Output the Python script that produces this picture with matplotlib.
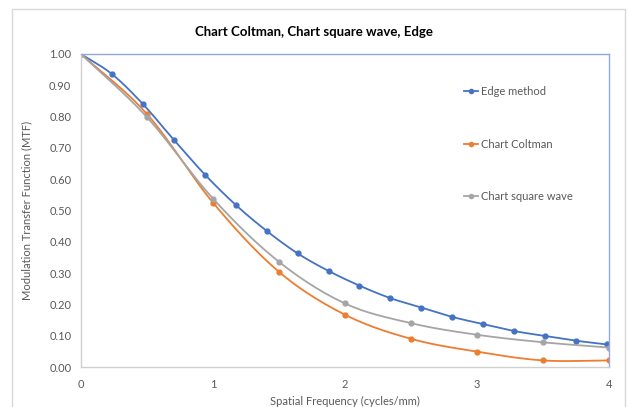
import numpy as np
import matplotlib.pyplot as plt
from matplotlib.patches import Rectangle

plt.rcParams['font.family'] = ['Lato', 'DejaVu Sans']

# data
edge_x = [0, 0.234, 0.469, 0.703, 0.938, 1.172, 1.406, 1.641, 1.875, 2.109,
          2.344, 2.578, 2.813, 3.047, 3.281, 3.516, 3.750, 3.984]
edge_mtf = [1.00, 0.936, 0.840, 0.726, 0.615, 0.518, 0.435, 0.363, 0.307, 0.260,
            0.220, 0.190, 0.160, 0.137, 0.115, 0.099, 0.084, 0.072]
chart_x = [0, 0.5, 1.0, 1.5, 2.0, 2.5, 3.0, 3.5, 4.0]
coltman_mtf = [1.00, 0.808, 0.525, 0.304, 0.167, 0.090, 0.049, 0.021, 0.021]
square_mtf = [1.00, 0.798, 0.538, 0.336, 0.203, 0.140, 0.103, 0.079, 0.062]

series = [
    ("Edge method", edge_x, edge_mtf, "#4472c4"),
    ("Chart Coltman", chart_x, coltman_mtf, "#ed7d31"),
    ("Chart square wave", chart_x, square_mtf, "#a5a5a5"),
]


def smooth(x, y, n=24):
    # catmull-rom curve through the points, like Excel's smoothed line
    x = np.asarray(x, float)
    y = np.asarray(y, float)
    px = np.concatenate([[2 * x[0] - x[1]], x, [2 * x[-1] - x[-2]]])
    py = np.concatenate([[2 * y[0] - y[1]], y, [2 * y[-1] - y[-2]]])
    t = np.linspace(0, 1, n)[:, None]
    xs, ys = [], []
    for i in range(1, len(px) - 2):
        for p, out in ((px, xs), (py, ys)):
            p0, p1, p2, p3 = p[i - 1], p[i], p[i + 1], p[i + 2]
            seg = 0.5 * (2 * p1 + (-p0 + p2) * t + (2 * p0 - 5 * p1 + 4 * p2 - p3) * t ** 2
                         + (-p0 + 3 * p1 - 3 * p2 + p3) * t ** 3)
            out.append(seg.ravel())
    return np.concatenate(xs), np.concatenate(ys)


fig = plt.figure(figsize=(6.28, 4.07), dpi=100)
ax = fig.add_axes([81 / 628, 1 - 367 / 407, (609 - 81) / 628, (367 - 54) / 407])

for label, x, y, c in series:
    sx, sy = smooth(x, y)
    ax.plot(sx, sy, color=c, lw=1.3)
    ax.plot(x, y, 'o', color=c, ms=3.5)
    ax.plot([], [], '-o', color=c, lw=1.3, ms=3, label=label)

ax.set_xlim(0, 4)
ax.set_ylim(0, 1)
ax.set_xticks([0, 1, 2, 3, 4])
ax.set_yticks(np.arange(0, 1.01, 0.1))
ax.set_yticklabels([f"{v:.2f}" for v in np.arange(0, 1.01, 0.1)])
ax.tick_params(length=0, labelsize=8, colors="#595959", pad=7)
ax.tick_params(axis='x', pad=9)
for s in ("left", "bottom"):
    ax.spines[s].set_color("#d0d0d0")
for s in ("top", "right"):
    ax.spines[s].set_color("#8faadc")
for s in ax.spines.values():
    s.set_linewidth(1)

ax.set_xlabel("Spatial Frequency (cycles/mm)", fontsize=8, color="#595959", labelpad=4)
ax.set_ylabel("Modulation Transfer Function (MTF)", fontsize=8, color="#595959", labelpad=12)
fig.text(0.5, 1 - 32 / 407, "Chart Coltman, Chart square wave, Edge", ha="center",
         va="center", fontsize=9.5, fontweight="bold", color="#000000")

leg = ax.legend(loc="upper left", bbox_to_anchor=(454 / 628, 1 - 76 / 407),
                bbox_transform=fig.transFigure, frameon=False, fontsize=8,
                handlelength=1.3, handletextpad=0.2, labelspacing=3.75)
for t in leg.get_texts():
    t.set_color("#595959")

fig.patches.append(Rectangle((12 / 628, -0.02), (625 - 12) / 628, 1 - 9 / 407 + 0.02,
                             transform=fig.transFigure, fill=False,
                             edgecolor="#d9d9d9", lw=1))

fig.savefig("out.png", dpi=100)
